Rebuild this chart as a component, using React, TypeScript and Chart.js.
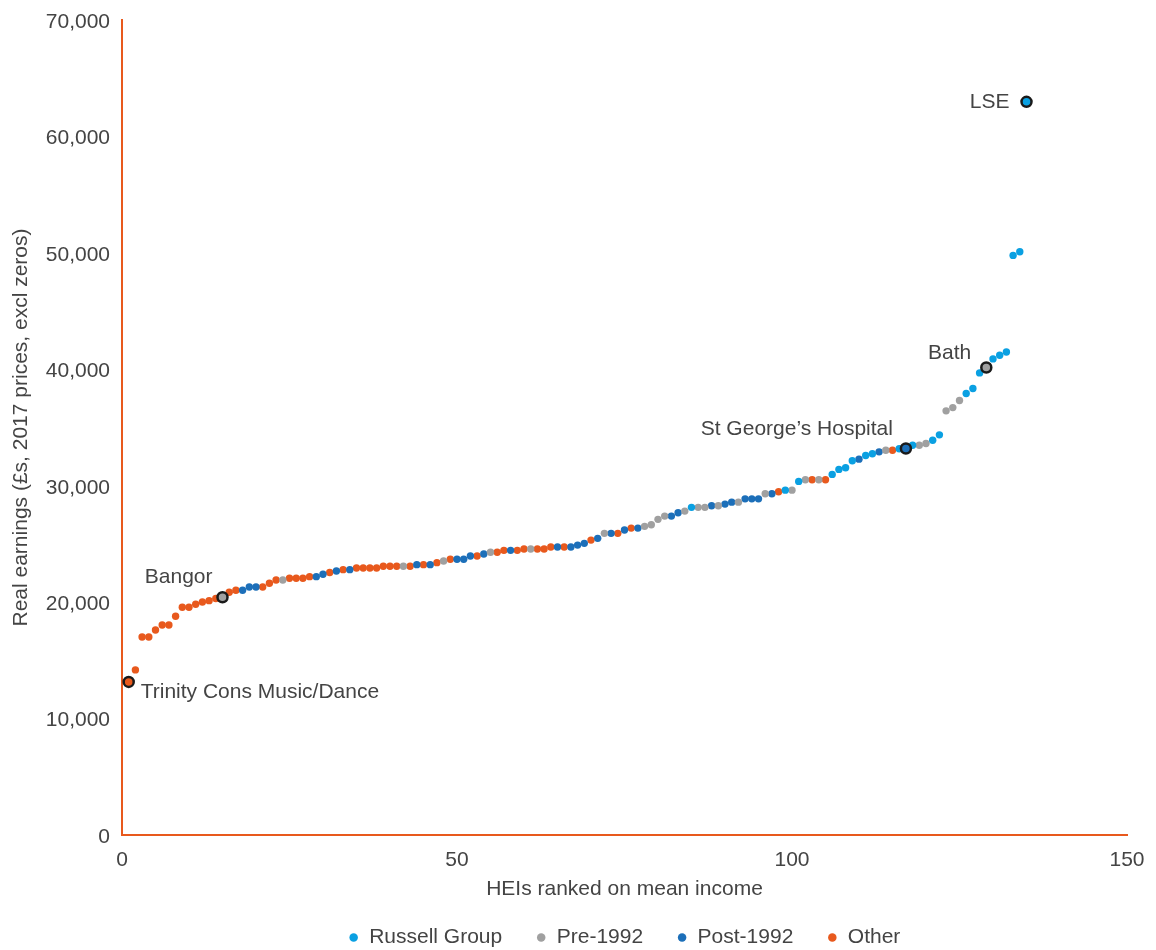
import React, { useEffect, useRef } from 'react';
import { Chart, registerables } from 'chart.js';

Chart.register(...registerables);

// ---- data ----
const groupCodes = ['R', 'P', 'N', 'O'];
const groupNames = ['Russell Group', 'Pre-1992', 'Post-1992', 'Other'];
const groupColors = ['#0aa0e2', '#a0a0a0', '#1c6fb9', '#e8591d'];

// mean real earnings by HEI, in rank order 1..135
const earnings = [
  13150, 14180, 17010, 17010, 17610, 18040, 18040, 18790, 19560, 19560,
  19820, 20010, 20130, 20310, 20420, 20850, 21020, 21020, 21300, 21300,
  21300, 21620, 21900, 21900, 22050, 22050, 22050, 22190, 22190, 22390,
  22540, 22670, 22790, 22790, 22930, 22930, 22930, 22930, 23080, 23080,
  23080, 23080, 23080, 23220, 23220, 23220, 23390, 23530, 23680, 23680,
  23680, 23960, 23960, 24130, 24280, 24280, 24450, 24450, 24450, 24560,
  24560, 24560, 24560, 24730, 24730, 24730, 24730, 24900, 25050, 25330,
  25480, 25910, 25910, 25910, 26190, 26360, 26360, 26510, 26650, 27110,
  27390, 27390, 27680, 27820, 28140, 28140, 28140, 28280, 28280, 28420,
  28590, 28590, 28870, 28870, 28870, 29310, 29310, 29480, 29620, 29620,
  30370, 30510, 30510, 30510, 30510, 30970, 31400, 31540, 32140, 32280,
  32600, 32740, 32910, 33050, 33050, 33170, 33200, 33480, 33480, 33630,
  33910, 34370, 36430, 36710, 37320, 37920, 38350, 39690, 40150, 40890,
  41200, 41490, 49780, 50100, 62970,
];

// group of each HEI (R = Russell, P = Pre-1992, N = Post-1992, O = Other)
const groups = [
  'O', 'O', 'O', 'O', 'O', 'O', 'O', 'O', 'O', 'O',
  'O', 'O', 'O', 'O', 'P', 'O', 'O', 'N', 'N', 'N',
  'O', 'O', 'O', 'P', 'O', 'O', 'O', 'O', 'N', 'N',
  'O', 'N', 'O', 'N', 'O', 'O', 'O', 'O', 'O', 'O',
  'O', 'P', 'O', 'N', 'O', 'N', 'O', 'P', 'O', 'N',
  'N', 'N', 'O', 'N', 'P', 'O', 'O', 'N', 'O', 'O',
  'P', 'O', 'O', 'O', 'N', 'O', 'N', 'N', 'N', 'O',
  'N', 'P', 'N', 'O', 'N', 'O', 'N', 'P', 'P', 'P',
  'P', 'N', 'N', 'P', 'R', 'P', 'P', 'N', 'P', 'N',
  'N', 'P', 'N', 'N', 'N', 'P', 'N', 'O', 'R', 'P',
  'R', 'P', 'O', 'P', 'O', 'R', 'R', 'R', 'R', 'N',
  'R', 'R', 'N', 'P', 'O', 'R', 'N', 'R', 'P', 'P',
  'R', 'R', 'P', 'P', 'P', 'R', 'R', 'R', 'P', 'R',
  'R', 'R', 'R', 'R', 'R',
];

const highlightRanks = [1, 15, 117, 129, 135];
const highlightNames = ['Trinity Cons Music/Dance', 'Bangor', 'St George\u2019s Hospital', 'Bath', 'LSE'];

const xTicks = [0, 50, 100, 150];
const yTicks = [0, 10000, 20000, 30000, 40000, 50000, 60000, 70000];

const xTitle = 'HEIs ranked on mean income';
const yTitle = 'Real earnings (\u00a3s, 2017 prices, excl zeros)';

// ---- styles ----
const FONT = '"Liberation Sans", Arial, sans-serif';
const FSIZE = 21;
const WEIGHT = 'normal';
const TEXT = '#444444';
const AXIS = '#e8591d';
const CLEAR = 'rgba(0,0,0,0)';
const labelPlacement = [
  { align: 'left', dx: 12, dy: 10 },
  { align: 'right', dx: -10, dy: -20 },
  { align: 'right', dx: -13, dy: -19 },
  { align: 'right', dx: -15, dy: -14 },
  { align: 'right', dx: -17, dy: 0 },
];

const labelPlugin = {
  id: 'hiLabels',
  afterDatasetsDraw(chart: any) {
    const { ctx, scales } = chart;
    const xs = scales.x;
    const ys = scales.y;
    ctx.save();
    ctx.font = `${WEIGHT} ${FSIZE}px ${FONT}`;
    ctx.fillStyle = TEXT;
    ctx.textBaseline = 'middle';
    highlightRanks.forEach((rank, i) => {
      const px = xs.getPixelForValue(rank);
      const py = ys.getPixelForValue(earnings[rank - 1]);
      const p = labelPlacement[i];
      ctx.textAlign = p.align;
      ctx.fillText(highlightNames[i], px + p.dx, py + p.dy);
    });
    ctx.restore();
  },
};

export default function App() {
  const ref = useRef<HTMLCanvasElement>(null);

  useEffect(() => {
    const canvas = ref.current;
    if (!canvas) return;

    const groupDatasets = groupCodes.map((code, gi) => ({
      label: groupNames[gi],
      data: earnings
        .map((v, i) => ({ x: i + 1, y: v }))
        .filter((_, i) => groups[i] === code),
      backgroundColor: groupColors[gi],
      borderColor: groupColors[gi],
      borderWidth: 0,
      pointRadius: 3.7,
      pointHoverRadius: 3.7,
      pointBorderWidth: 0,
      order: gi + 1,
    }));

    const highlightDataset = {
      label: 'highlight',
      data: highlightRanks.map((r) => ({ x: r, y: earnings[r - 1] })),
      backgroundColor: highlightRanks.map((r) => groupColors[groupCodes.indexOf(groups[r - 1])]),
      borderColor: '#1a1a1a',
      pointRadius: 5,
      pointHoverRadius: 5,
      pointBorderWidth: 2.5,
      borderWidth: 2.5,
      order: 0,
    };

    const font = { family: FONT, size: FSIZE, weight: WEIGHT as any };

    const chart = new Chart(canvas, {
      type: 'scatter',
      data: { datasets: [...groupDatasets, highlightDataset] as any },
      plugins: [labelPlugin],
      options: {
        responsive: false,
        animation: false,
        devicePixelRatio: 1,
        events: [],
        layout: { padding: { top: 20, right: 29, bottom: 0, left: 0 } },
        plugins: {
          tooltip: { enabled: false },
          legend: {
            display: true,
            position: 'bottom',
            fullSize: false,
            labels: {
              usePointStyle: true,
              pointStyle: 'circle',
              boxWidth: 10,
              boxHeight: 6,
              padding: 34,
              color: TEXT,
              font,
              filter: (item: any) => item.text !== 'highlight',
            },
          },
        },
        scales: {
          x: {
            type: 'linear',
            min: 0,
            max: 150,
            afterBuildTicks: (s: any) => {
              s.ticks = xTicks.map((v) => ({ value: v }));
            },
            afterFit: (s: any) => {
              s.height = 58;
            },
            grid: {
              display: true,
              drawOnChartArea: false,
              drawTicks: true,
              tickLength: 13,
              color: CLEAR,
              tickColor: CLEAR,
            },
            border: { display: true, color: AXIS, width: 2 },
            ticks: {
              padding: 0,
              color: TEXT,
              font,
              callback: (v: any) => String(v),
            },
            title: {
              display: true,
              text: xTitle,
              color: TEXT,
              font: { ...font, lineHeight: 0.4 },
              padding: { top: 0, bottom: 0 },
            },
          },
          y: {
            type: 'linear',
            min: 0,
            max: 70000,
            afterBuildTicks: (s: any) => {
              s.ticks = yTicks.map((v) => ({ value: v }));
            },
            afterFit: (s: any) => {
              s.width = 122;
            },
            grid: {
              display: true,
              drawOnChartArea: false,
              drawTicks: true,
              tickLength: 12,
              color: CLEAR,
              tickColor: CLEAR,
            },
            border: { display: true, color: AXIS, width: 2 },
            ticks: {
              padding: 0,
              labelOffset: 2,
              color: TEXT,
              font,
              callback: (v: any) => Number(v).toLocaleString('en-GB'),
            },
            title: {
              display: true,
              text: yTitle,
              color: TEXT,
              font: { ...font, lineHeight: 1.2 },
              padding: { top: 9, bottom: 0 },
            },
          },
        },
      },
    });

    return () => chart.destroy();
  }, []);

  return (
    <div
      style={{
        position: 'absolute',
        left: 0,
        top: 0,
        width: 1156,
        height: 950,
        overflow: 'hidden',
        background: '#ffffff',
      }}
    >
      <canvas ref={ref} width={1156} height={958} style={{ display: 'block', width: 1156, height: 958 }} />
    </div>
  );
}
